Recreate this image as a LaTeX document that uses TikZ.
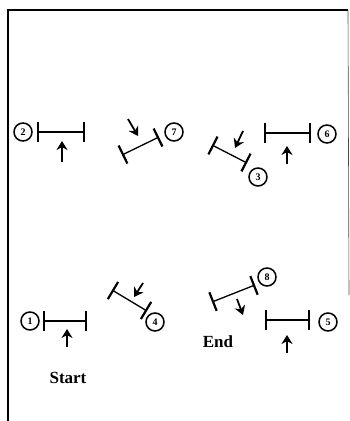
\documentclass[tikz,border=0pt]{standalone}
\usepackage{fontspec}
\setmainfont{Liberation Serif}
\usetikzlibrary{arrows.meta}
\begin{document}
\begin{tikzpicture}[x=1pt,y=-1pt,
  num/.style={circle,draw,line width=1.5pt,minimum size=18pt,inner sep=0pt,font=\fontsize{10}{10}\selectfont\bfseries},
  seg/.style={line width=1.3pt,{Bar[width=20pt,line width=2.2pt]}-{Bar[width=20pt,line width=2.2pt]}},
  push/.style={line width=1.8pt,-{Stealth[length=9pt,width=11pt]}},
  lbl/.style={font=\fontsize{17}{17}\selectfont\bfseries},
  frame/.style={line width=1.6pt},
  frameR/.style={line width=0.6pt,black!70}]
\useasboundingbox (0,0) rectangle (350,421);
% frame
\coordinate (fl) at (8,421);
\coordinate (ftl) at (8,10);
\coordinate (ftr) at (348,10);
\coordinate (fr) at (349,295);
\draw[frame] (fl) -- (ftl) -- (ftr);
\draw[frameR] (ftr) -- (fr);
% numbered circles
\node[num] (c1) at (30,321) {1};
\node[num] (c2) at (23,132) {2};
\node[num] (c3) at (258,177) {3};
\node[num] (c4) at (155,322) {4};
\node[num] (c5) at (328,322) {5};
\node[num] (c6) at (327,134) {6};
\node[num] (c7) at (174,132) {7};
\node[num] (c8) at (267,277) {8};
% segment ends
\coordinate (s1a) at (43,321);  \coordinate (s1b) at (87,321);
\coordinate (s2a) at (37,132);  \coordinate (s2b) at (85,132);
\coordinate (s3a) at (212,145); \coordinate (s3b) at (247,163);
\coordinate (s4a) at (112,290); \coordinate (s4b) at (147,311);
\coordinate (s5a) at (265,320); \coordinate (s5b) at (310,320);
\coordinate (s6a) at (264,133); \coordinate (s6b) at (311,133);
\coordinate (s7a) at (122,155); \coordinate (s7b) at (159,137);
\coordinate (s8a) at (212,302); \coordinate (s8b) at (255,285);
\draw[seg] (s1a) -- (s1b);
\draw[seg] (s2a) -- (s2b);
\draw[seg] (s3a) -- (s3b);
\draw[seg] (s4a) -- (s4b);
\draw[seg] (s5a) -- (s5b);
\draw[seg] (s6a) -- (s6b);
\draw[seg] (s7a) -- (s7b);
\draw[seg] (s8a) -- (s8b);
% push arrows
\coordinate (a1t) at (67,347);  \coordinate (a1h) at (67,329);
\coordinate (a2t) at (62,162);  \coordinate (a2h) at (62,141);
\coordinate (a3t) at (243,131); \coordinate (a3h) at (235,148);
\coordinate (a4t) at (143,283); \coordinate (a4h) at (134,297);
\coordinate (a5t) at (287,353); \coordinate (a5h) at (287,335);
\coordinate (a6t) at (287,164); \coordinate (a6h) at (287,146);
\coordinate (a7t) at (128,119); \coordinate (a7h) at (138,136);
\coordinate (a8t) at (237,299); \coordinate (a8h) at (243,315);
\draw[push] (a1t) -- (a1h);
\draw[push] (a2t) -- (a2h);
\draw[push] (a3t) -- (a3h);
\draw[push] (a4t) -- (a4h);
\draw[push] (a5t) -- (a5h);
\draw[push] (a6t) -- (a6h);
\draw[push] (a7t) -- (a7h);
\draw[push] (a8t) -- (a8h);
% labels
\node[lbl] (start) at (68,378) {Start};
\node[lbl] (end) at (218,342) {End};
\end{tikzpicture}
\end{document}
